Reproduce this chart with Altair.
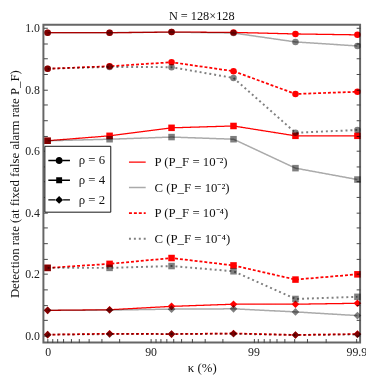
import altair as alt
import pandas as pd

# ---------------- data ----------------
kappa = [0, 75, 93.75, 98.4375, 99.609375, 99.90234375]
rho_labels = ["ρ = 6", "ρ = 4", "ρ = 2"]
series_labels = ["P (P_F = 10⁻²)", "C (P_F = 10⁻²)", "P (P_F = 10⁻⁴)", "C (P_F = 10⁻⁴)"]
series_method = ["P", "C", "P", "C"]

rho6_P2 = [0.984, 0.984, 0.986, 0.985, 0.980, 0.977]
rho6_C2 = [0.984, 0.984, 0.986, 0.983, 0.954, 0.941]
rho6_P4 = [0.867, 0.875, 0.888, 0.859, 0.785, 0.792]
rho6_C4 = [0.867, 0.873, 0.872, 0.837, 0.659, 0.668]
rho4_P2 = [0.633, 0.649, 0.675, 0.681, 0.649, 0.649]
rho4_C2 = [0.633, 0.638, 0.645, 0.638, 0.544, 0.507]
rho4_P4 = [0.220, 0.233, 0.252, 0.228, 0.182, 0.199]
rho4_C4 = [0.220, 0.220, 0.226, 0.209, 0.119, 0.126]
rho2_P2 = [0.082, 0.084, 0.095, 0.102, 0.102, 0.105]
rho2_C2 = [0.082, 0.083, 0.086, 0.087, 0.077, 0.065]
rho2_P4 = [0.003, 0.006, 0.005, 0.007, 0.002, 0.005]
rho2_C4 = [0.003, 0.005, 0.005, 0.006, 0.002, 0.004]

rates = {
    "ρ = 6": [rho6_P2, rho6_C2, rho6_P4, rho6_C4],
    "ρ = 4": [rho4_P2, rho4_C2, rho4_P4, rho4_C4],
    "ρ = 2": [rho2_P2, rho2_C2, rho2_P4, rho2_C4],
}

x_major_kappa = [0, 90, 99, 99.9]
x_minor_kappa = [10, 20, 30, 40, 50, 60, 70, 80,
                 91, 92, 93, 94, 95, 96, 97, 98,
                 99.1, 99.2, 99.3, 99.4, 99.5, 99.6, 99.7, 99.8]
y_major = [0.0, 0.2, 0.4, 0.6, 0.8, 1.0]
y_ticks = [0.0, 0.05, 0.1, 0.15, 0.2, 0.25, 0.3, 0.35, 0.4, 0.45, 0.5,
           0.55, 0.6, 0.65, 0.7, 0.75, 0.8, 0.85, 0.9, 0.95, 1.0]

rows = []
for rho in rho_labels:
    for s, m, vals in zip(series_labels, series_method, rates[rho]):
        for k, v in zip(kappa, vals):
            rows.append(dict(rho=rho, series=s, method=m, kappa=k, r=100 - k, rate=v))
df = pd.DataFrame(rows)

# ---------------- styling ----------------
FONT = "Liberation Serif"
RED = "#ff0000"
GRAY_PT = "#7f7f7f"
point_shapes = {"ρ = 6": ("circle", 44), "ρ = 4": ("square", 44), "ρ = 2": ("diamond", 60)}

x_tick_r = [round(100 - k, 6) for k in x_major_kappa + x_minor_kappa]
x_label_expr = " : ".join(
    f"abs(datum.value - {round(100 - k, 6)}) < 1e-6 ? '{k:g}'" for k in x_major_kappa
) + " : ''"
y_label_expr = " : ".join(
    f"abs(datum.value - {v}) < 1e-6 ? '{v:.1f}'" for v in y_major
) + " : ''"

common_axis = dict(
    offset=-4, tickSize=4, labelPadding=4, domain=False, grid=False,
    tickColor="#444", labelColor="#222", labelFont=FONT, labelFontSize=12,
    titleFont=FONT, titleFontSize=13, titleFontWeight="normal", titleColor="#111",
)

x_axis = alt.Axis(values=x_tick_r, labelExpr=x_label_expr, title="κ (%)",
                  titlePadding=4, labelFlush=False, **common_axis)
x_enc = alt.X("r:Q", scale=alt.Scale(type="log", domain=[109.9, 0.092], nice=False, zero=False),
              axis=x_axis)

y_scale = alt.Scale(domain=[-0.0224, 1.0096], nice=False, zero=False)
y_left = alt.Axis(values=y_ticks, labelExpr=y_label_expr,
                  title="Detection rate (at fixed false alarm rate P_F)",
                  titlePadding=3, labelFlush=False, **common_axis)
y_right = alt.Axis(values=y_ticks, labels=False, title=None, orient="right", **common_axis)

line_legend = alt.Legend(
    title=None, orient="none", legendX=86, legendY=130, padding=0,
    symbolType="stroke", symbolSize=289, rowPadding=9, labelOffset=8,
    labelFont=FONT, labelFontSize=13, labelColor="#111",
)

lines = alt.Chart(df).mark_line(blend="multiply").encode(
    x=x_enc,
    y=alt.Y("rate:Q", scale=y_scale, axis=y_left),
    color=alt.Color("series:N", scale=alt.Scale(domain=series_labels,
                    range=[RED, "#aaaaaa", RED, "#808080"]), legend=line_legend),
    strokeDash=alt.StrokeDash("series:N", scale=alt.Scale(domain=series_labels,
                    range=[[1, 0], [1, 0], [3, 2], [2, 3]]), legend=line_legend),
    strokeWidth=alt.StrokeWidth("series:N", scale=alt.Scale(domain=series_labels,
                    range=[1.3, 2.0, 1.3, 1.2]), legend=line_legend),
    detail="rho:N",
)

point_layers = []
for method, col in [("C", GRAY_PT), ("P", RED)]:
    for rho in rho_labels:
        shp, sz = point_shapes[rho]
        point_layers.append(
            alt.Chart(df).transform_filter(
                (alt.datum.method == method) & (alt.datum.rho == rho)
            ).mark_point(filled=True, color=col, opacity=1, shape=shp, size=sz,
                         blend="multiply").encode(
                x=x_enc,
                y=alt.Y("rate:Q", scale=y_scale, axis=None),
            )
        )

# legend glyphs: a short line on each side of the marker (all filled sub-paths)
bar = "M-1.1,-0.07H{a}V0.07H-1.1Z M{b},-0.07H1.1V0.07H{b}Z"
legend_paths = [
    bar.format(a=-0.36, b=0.36) + " M0.36,0A0.36,0.36,0,1,1,-0.36,0A0.36,0.36,0,1,1,0.36,0Z",
    bar.format(a=-0.3, b=0.3) + " M-0.3,-0.3H0.3V0.3H-0.3Z",
    bar.format(a=-0.4, b=0.4) + " M0,-0.4L0.4,0L0,0.4L-0.4,0Z",
]
rho_legend = alt.Legend(
    title=None, orient="none", legendX=1, legendY=123, padding=5,
    strokeColor="#111", fillColor="white",
    symbolSize=400, symbolFillColor="#000", symbolStrokeColor="#000",
    symbolStrokeWidth=0, symbolOpacity=1, rowPadding=3, labelOffset=10,
    labelFont=FONT, labelFontSize=13, labelColor="#111",
)
legend_layer = alt.Chart(df).mark_point(filled=True, opacity=0, color="#000").encode(
    x=x_enc,
    y=alt.Y("rate:Q", scale=y_scale, axis=y_right),
    shape=alt.Shape("rho:N", scale=alt.Scale(domain=rho_labels, range=legend_paths),
                    legend=rho_legend),
)

chart = alt.layer(lines, *point_layers, legend_layer).resolve_axis(
    y="independent"
).properties(
    width=322, height=323,
    padding={"left": 36, "top": 14, "right": 6, "bottom": 34},
    autosize=alt.AutoSizeParams(type="none"),
    title=alt.TitleParams("N = 128×128", font=FONT, fontSize=12.5, fontWeight="normal",
                          color="#111", baseline="alphabetic", offset=2, frame="group",
                          dy=13),
    background="white",
).configure_view(stroke="#666", strokeWidth=2)

chart.save("out.html", embed_options={"renderer": "svg", "actions": False})
